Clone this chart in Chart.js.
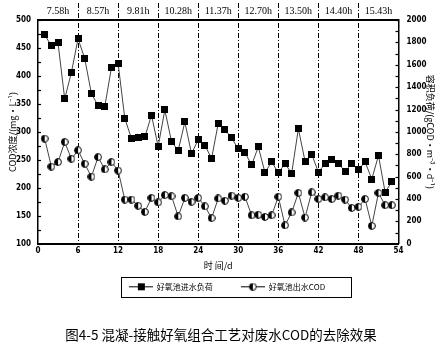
<!DOCTYPE html>
<html><head><meta charset="utf-8">
<script src="https://cdn.jsdelivr.net/npm/chart.js@4/dist/chart.umd.min.js"></script>
<style>html,body{margin:0;padding:0;background:#fff;}canvas{display:block}</style>
</head><body>
<canvas id="c" width="442" height="357"></canvas>
<script>
// ---- data ----
const days = [1,2,3,4,5,6,7,8,9,10,11,12,13,14,15,16,17,18,19,20,21,22,23,24,25,26,27,28,29,30,31,32,33,34,35,36,37,38,39,40,41,42,43,44,45,46,47,48,49,50,51,52,53];
const loadValues = [1866,1771,1795,1295,1530,1833,1655,1342,1235,1226,1574,1613,1122,940,946,955,1149,870,1196,914,833,1089,804,932,881,762,1077,1021,946,848,815,705,866,637,732,635,715,631,1028,738,801,640,715,750,715,650,715,660,733,577,789,460,555];
const codValues = [288,238,246,282,252,267,243,220,255,233,246,231,179,179,168,157,182,174,187,185,149,182,175,182,167,146,181,177,186,182,184,151,152,148,151,184,133,156,191,147,192,180,183,180,186,179,164,166,180,132,191,169,169];
const hrtLabels = ['7.58h','8.57h','9.81h','10.28h','11.37h','12.70h','13.50h','14.40h','15.43h'];
const hrtPositions = [3,9,15,21,27,33,39,45,51];
const phaseBounds = [6,12,18,24,30,36,42,48];
const seriesNames = ['好氧池进水负荷','好氧池出水COD'];
const captionText = '图4-5 混凝-接触好氧组合工艺对废水COD的去除效果';

const narrow = "'Liberation Sans Narrow','DejaVu Sans Condensed',Arial,sans-serif";
const cjk = "'Noto Sans CJK SC','Noto Sans',sans-serif";

function squareImg(s){const c=document.createElement('canvas');c.width=s;c.height=s;const g=c.getContext('2d');g.fillStyle='#000';g.fillRect(0,0,s,s);return c;}
function halfImg(s){const c=document.createElement('canvas');c.width=s;c.height=s;const g=c.getContext('2d');const r=s/2-0.6,cx=s/2,cy=s/2;
 g.fillStyle='#fff';g.beginPath();g.arc(cx,cy,r,0,Math.PI*2);g.fill();
 g.fillStyle='#000';g.beginPath();g.arc(cx,cy,r,Math.PI/2,Math.PI*1.5);g.closePath();g.fill();
 g.strokeStyle='#000';g.lineWidth=1;g.beginPath();g.arc(cx,cy,r,0,Math.PI*2);g.stroke();return c;}
function legendIcon(kind){const c=document.createElement('canvas');c.width=36;c.height=9;const g=c.getContext('2d');
 g.strokeStyle='#000';g.lineWidth=1;g.beginPath();g.moveTo(12,4.5);g.lineTo(36,4.5);g.stroke();
 const m=kind==='sq'?squareImg(7):halfImg(8);g.drawImage(m,24-m.width/2,4.5-m.height/2);return c;}

const sqMark=squareImg(7), halfMark=halfImg(8);
const icons=[legendIcon('sq'),legendIcon('half')];

const dividers={id:'dividers',beforeDatasetsDraw(chart){const {ctx,chartArea}=chart;const xs=chart.scales.x;ctx.save();ctx.strokeStyle='#000';ctx.lineWidth=1;ctx.setLineDash([5,2,1,2]);
 phaseBounds.forEach(v=>{const px=Math.round(xs.getPixelForValue(v))+0.5;ctx.beginPath();ctx.moveTo(px,3);ctx.lineTo(px,chartArea.bottom);ctx.stroke();});ctx.restore();}};
const innerTicks={id:'innerTicks',afterDraw(chart){const {ctx,chartArea}=chart;const y=chart.scales.y,y2=chart.scales.y2;ctx.save();ctx.strokeStyle='#000';ctx.lineWidth=1.2;
 for(let v=y.min;v<=y.max;v+=25){const p=Math.round(y.getPixelForValue(v))+0.5;ctx.beginPath();ctx.moveTo(chartArea.left,p);ctx.lineTo(chartArea.left+3,p);ctx.stroke();}
 for(let v=y2.min;v<=y2.max;v+=100){const p=Math.round(y2.getPixelForValue(v))+0.5;ctx.beginPath();ctx.moveTo(chartArea.right-3,p);ctx.lineTo(chartArea.right,p);ctx.stroke();}
 ctx.restore();}};
const legendBox={id:'legendBox',afterDraw(chart){const lg=chart.legend;if(!lg||!lg.legendHitBoxes.length)return;const hb=lg.legendHitBoxes;const ctx=chart.ctx;
 const l=hb[0].left+4,r=hb[hb.length-1].left+hb[hb.length-1].width+26,t=hb[0].top-6,b=hb[0].top+hb[0].height+6;
 ctx.save();ctx.strokeStyle='#000';ctx.lineWidth=1;ctx.strokeRect(Math.round(l)+0.5,Math.round(t)+0.5,Math.round(r-l),Math.round(b-t));ctx.restore();}};

const plain = v => String(v);

new Chart(document.getElementById('c'),{
 type:'line',
 data:{datasets:[
  {label:seriesNames[0],data:days.map((d,i)=>({x:d,y:loadValues[i]})),yAxisID:'y2',borderColor:'#444',borderWidth:1,pointStyle:sqMark,tension:0},
  {label:seriesNames[1],data:days.map((d,i)=>({x:d,y:codValues[i]})),yAxisID:'y',borderColor:'#444',borderWidth:1,pointStyle:halfMark,tension:0}
 ]},
 plugins:[dividers,innerTicks,legendBox],
 options:{
  responsive:false,animation:false,devicePixelRatio:1,
  layout:{padding:{top:0,left:0,right:0,bottom:0}},
  events:[],
  scales:{
   x:{type:'linear',position:'bottom',min:0,max:54,
      ticks:{stepSize:6,autoSkip:false,maxRotation:0,padding:2,color:'#000',font:{family:narrow,size:8,weight:'bold'},callback:plain},
      grid:{display:false,drawTicks:false},border:{display:true,width:2,color:'#000'},
      title:{display:true,text:'时 间/d',color:'#000',font:{family:cjk,size:9},padding:{top:0,bottom:-4}},
      afterFit(s){s.height=23;}},
   xTop:{type:'linear',position:'top',min:0,max:54,
      afterBuildTicks(s){s.ticks=hrtPositions.map(v=>({value:v}));},
      ticks:{autoSkip:false,maxRotation:0,padding:3,color:'#000',font:{family:"'Liberation Serif','DejaVu Serif',serif",size:10},callback:(v,i)=>hrtLabels[i]},
      grid:{display:false,drawTicks:false},border:{display:true,width:2,color:'#000'},
      afterFit(s){s.height=20;}},
   y:{type:'linear',position:'left',min:100,max:500,
      ticks:{stepSize:50,padding:7,color:'#000',font:{family:narrow,size:8,weight:'bold'},callback:plain},
      grid:{display:false,drawTicks:false},border:{display:true,width:1.5,color:'#000'},
      title:{display:true,text:'COD浓度/(mg·L⁻¹)',color:'#000',font:{family:cjk,size:9},padding:{top:7,bottom:0}},
      afterFit(s){s.width=38;}},
   y2:{type:'linear',position:'right',min:0,max:2000,
      ticks:{stepSize:200,padding:8,color:'#000',font:{family:narrow,size:8,weight:'bold'},callback:plain},
      grid:{display:false,drawTicks:false},border:{display:true,width:1.5,color:'#000'},
      title:{display:true,text:'容积负荷/(gCOD·m⁻³·d⁻¹)',color:'#000',font:{family:cjk,size:9},padding:{top:6,bottom:0}},
      afterFit(s){s.width=43.5;}}
  },
  plugins:{
   legend:{display:true,position:'bottom',align:'center',
     labels:{usePointStyle:true,pointStyleWidth:36,padding:16,color:'#000',font:{family:cjk,size:8},
       generateLabels(chart){return chart.data.datasets.map((ds,i)=>({text:ds.label,pointStyle:icons[i],fillStyle:'#000',strokeStyle:'#000',lineWidth:0,hidden:false,datasetIndex:i}));}}},
   title:{display:true,position:'bottom',text:captionText,color:'#000',font:{family:cjk,size:13.5,weight:'normal'},padding:{top:26,bottom:14}},
   tooltip:{enabled:false}
  }
 }
});
</script>
</body></html>
